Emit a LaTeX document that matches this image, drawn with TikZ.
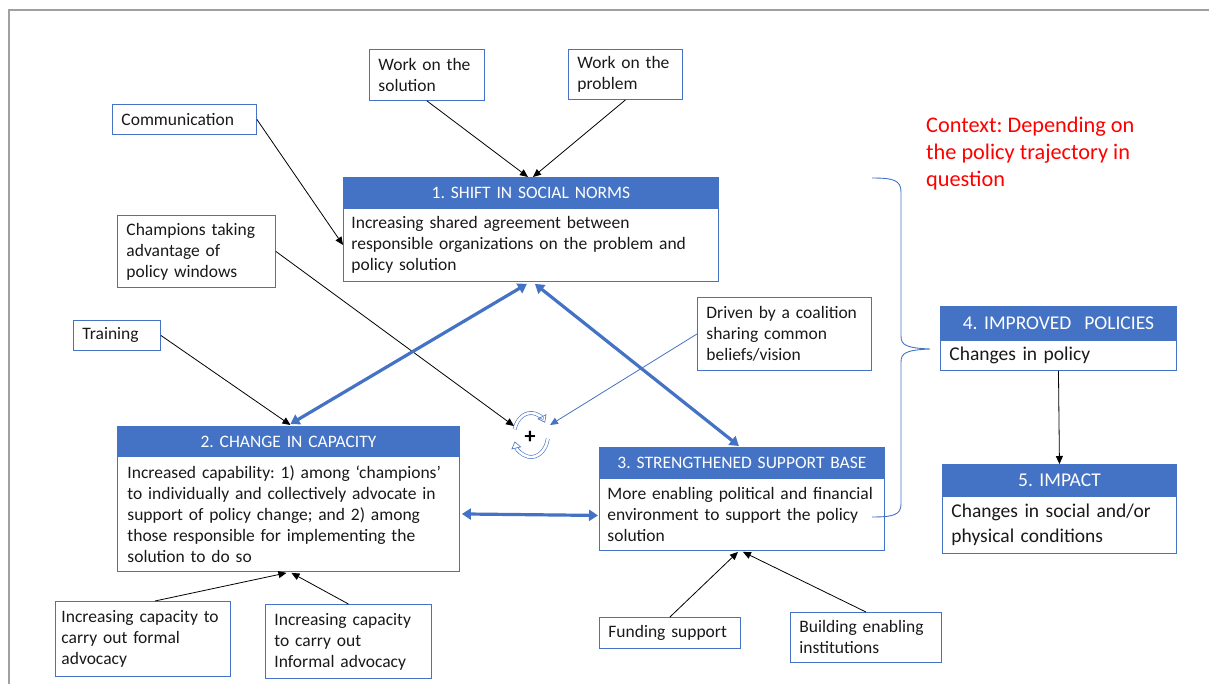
\documentclass[tikz,border=0pt]{standalone}
\usepackage{fontspec}
\setmainfont{Carlito}
\usetikzlibrary{arrows.meta,calc}
\definecolor{hdr}{HTML}{4472C4}
\definecolor{frm}{HTML}{A0A0A0}
\definecolor{ctx}{HTML}{FF0000}
\newcommand\fsz{\fontsize{17.5}{21}\selectfont}
\newcommand\fbig{\fontsize{19.5}{25}\selectfont}
\begin{document}
\frenchspacing
\begin{tikzpicture}[x=1pt,y=-1pt,
  every node/.style={inner sep=0pt},
  sbox/.style={draw=hdr, line width=0.9pt, anchor=north west, align=left, inner xsep=9pt, font=\fsz, text=black!90},
  hbox/.style={fill=hdr, draw=hdr, line width=0.9pt, anchor=north west, align=center, font=\fsz, text=white},
  bbox/.style={draw=hdr, line width=0.9pt, fill=white, anchor=north west, align=left, inner xsep=8pt, font=\fsz, text=black!90},
  thinarrow/.style={draw=black, line width=0.8pt, -{Triangle[length=8pt,width=7pt]}},
  bluearrow/.style={draw=hdr, line width=0.8pt, -{Triangle[length=8pt,width=7pt]}},
  thickarrow/.style={draw=hdr, line width=3.2pt, {Triangle[length=9pt,width=11pt]}-{Triangle[length=9pt,width=11pt]}},
  cycarc/.style={draw=hdr, line width=0.6pt, double=white, double distance=2.6pt, -{Triangle[open,length=7pt,width=10pt]}}
]
\useasboundingbox (0,0) rectangle (1209,684);
% frame
\draw[frm, line width=2pt] (8.5,684) -- (8.5,10.5) -- (1209,10.5);

% small boxes
\node[sbox, minimum width=115, minimum height=51, text width=97] (wsol) at (369,49) {Work on the\\solution};
\node[sbox, minimum width=114, minimum height=50, text width=96] (wprob) at (568,49) {Work on the\\problem};
\node[sbox, minimum width=144, minimum height=30, text width=126] (comm) at (112,104) {Communication};
\node[sbox, minimum width=158, minimum height=72, text width=140] (champ) at (117,215) {Champions taking\\advantage of\\policy windows};
\node[sbox, minimum width=87, minimum height=30, text width=69] (train) at (73,320) {Training};
\node[sbox, minimum width=174, minimum height=73, text width=156] (coal) at (697,297) {Driven by a coalition\\sharing common\\beliefs/vision};
\node[sbox, minimum width=175, minimum height=75, text width=163, inner xsep=6pt] (formal) at (55,601) {Increasing capacity to\\carry out formal\\advocacy};
\node[sbox, minimum width=166, minimum height=74, text width=148] (informal) at (265,604) {Increasing capacity\\to carry out\\Informal advocacy};
\node[sbox, minimum width=141, minimum height=31, text width=123] (fund) at (599,617) {Funding support};
\node[sbox, minimum width=151, minimum height=50, text width=133] (build) at (790,612) {Building enabling\\institutions};

% main boxes
\node[hbox, minimum width=375, minimum height=31, text width=375] (h1) at (343,177) {1. SHIFT IN SOCIAL NORMS};
\node[bbox, minimum width=375, minimum height=73, text width=359] (b1) at (343,208) {Increasing shared agreement between\\responsible organizations on the problem and\\policy solution};

\node[hbox, minimum width=342, minimum height=30, text width=342] (h2) at (117,426) {2. CHANGE IN CAPACITY};
\node[bbox, minimum width=342, minimum height=115, text width=322, inner xsep=10pt] (b2) at (117,456) {Increased capability: 1) among ‘champions’\\to individually and collectively advocate in\\support of policy change; and 2) among\\those responsible for implementing the\\solution to do so};

\node[hbox, minimum width=285, minimum height=31, text width=285] (h3) at (599,447) {3. STRENGTHENED SUPPORT BASE};
\node[bbox, minimum width=285, minimum height=72, text width=269] (b3) at (599,478) {More enabling political and financial\\environment to support the policy\\solution};

\node[hbox, minimum width=236, minimum height=34, text width=236, font=\fbig] (h4) at (940,306) {4. IMPROVED\ \ POLICIES};
\node[bbox, minimum width=236, minimum height=30, text width=218, inner xsep=9pt, font=\fbig] (b4) at (940,340) {Changes in policy};

\node[hbox, minimum width=234, minimum height=32, text width=234, font=\fbig] (h5) at (942,464) {5. IMPACT};
\node[bbox, minimum width=234, minimum height=57, text width=216, inner xsep=9pt, font=\fbig] (b5) at (942,496) {Changes in social and/or\\physical conditions};

% context
\node[anchor=west, align=left, font=\fontsize{22.3}{27}\selectfont, text=ctx] (ctxt) at (926,154) {Context: Depending on\\the policy trajectory in\\question};

% cycle symbol
\coordinate (cyc) at (531,435);
\draw[cycarc] ($(cyc)+(195:17 and 22)$) arc[start angle=195, end angle=326, x radius=17, y radius=22];
\draw[cycarc] ($(cyc)+(10:17 and 22)$) arc[start angle=10, end angle=163, x radius=17, y radius=22];
\node[font=\fontsize{22}{22}\selectfont\bfseries] (plus) at (530,437) {+};
\coordinate (cycL) at (514,426);
\coordinate (cycR) at (550,425);

% thin arrows
\draw[thinarrow] (wsol.south) -- ($(h1.north)+(-3,0)$);
\draw[thinarrow] (wprob.south) -- ($(h1.north)+(2,0)$);
\draw[thinarrow] (comm.east) -- (b1.west);
\draw[thinarrow] (champ.east) -- (cycL);
\draw[thinarrow] (train.east) -- ($(h2.north)+(2,-1)$);
\draw[bluearrow] (coal.west) -- (cycR);
\draw[thinarrow] (b4.south) -- (h5.north);
\draw[thinarrow] ($(formal.north)+(12,0)$) -- ($(b2.south)+(-2,1)$);
\draw[thinarrow] (informal.north) -- ($(b2.south)+(3,1)$);
\draw[thinarrow] (fund.north) -- ($(b3.south)+(-4,1)$);
\draw[thinarrow] (build.north) -- ($(b3.south)+(1,1)$);

% thick arrows
\draw[thickarrow] ($(h2.north)+(2,-2)$) -- ($(b1.south)+(-4,2)$);
\draw[thickarrow] ($(b1.south)+(4,2)$) -- ($(h3.north)+(-3,-1)$);
\draw[thickarrow] ($(b2.east)+(2,0)$) -- ($(b3.west)+(-1,1)$);

% brace
\draw[hdr, line width=0.9pt] (872,178) .. controls (893,178) and (901,180) .. (901,192) -- (901,336)
  .. controls (901,345) and (906,348) .. (930,349)
  .. controls (906,350) and (901,353) .. (901,362) -- (901,504)
  .. controls (901,515) and (893,517) .. (872,517);
\end{tikzpicture}
\end{document}
